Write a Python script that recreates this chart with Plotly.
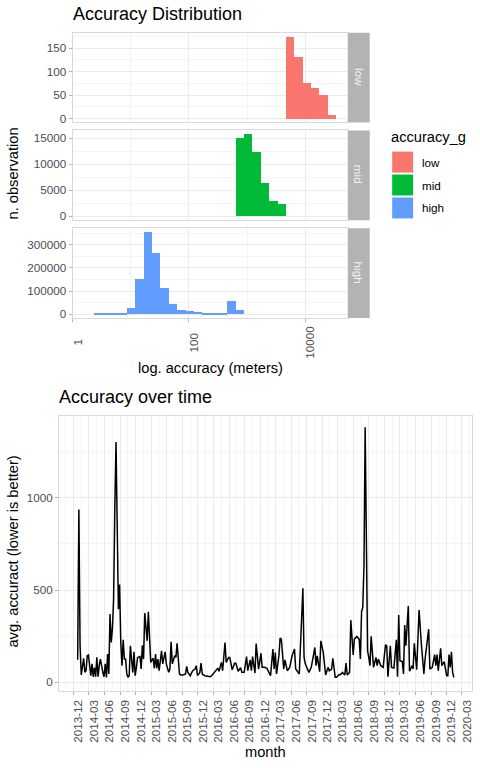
import datetime as dt
import plotly.graph_objects as go

# ---------- histogram data (log10 metres at bin centres, counts) ----------
BIN0 = 0.426
BINW = 0.144
low_bins = [23, 24, 25, 26, 27, 28]
low_counts = [175, 132, 77, 66, 51, 9]
mid_bins = [17, 18, 19, 20, 21, 22]
mid_counts = [14900, 15700, 12250, 6300, 2900, 2300]
high_bins = list(range(18))
high_counts = [5700, 5700, 5700, 5700, 27000, 152000, 355000, 264000, 113000,
               44500, 18700, 14000, 10000, 5700, 5700, 5700, 57500, 18700]
groups = ["low", "mid", "high"]
group_colors = ["#F8766D", "#00BA38", "#619CFF"]

# ---------- time series data (sampling steps since the first record, mean accuracy) ----------
first_record = dt.datetime(2013, 12, 24, 12)
step_days = 7.04
week_index = [0,1,2,3,5,6,7,8,9,11,12,13,14,15,16,17,18,19,21,22,23,24,25,26,27,28,29,30,31,32,
    34,35,36,37,38,39,40,41,42,43,44,46,47,48,49,50,52,53,54,55,56,58,59,60,61,62,63,64,65,66,
    67,68,69,70,71,73,74,76,77,78,79,81,82,83,85,86,88,90,91,92,94,96,98,99,100,102,103,104,106,109,
    111,113,115,117,118,120,121,123,124,126,127,129,131,132,134,136,137,139,141,142,144,145,146,148,149,150,151,153,154,156,
    158,161,163,164,165,166,168,169,170,172,173,175,177,179,181,182,184,185,188,189,190,192,193,195,198,199,200,202,203,205,
    207,209,210,212,213,215,216,218,220,221,223,224,225,227,228,230,231,233,235,236,237,238,239,240,241,242,243,244,245,247,
    249,250,251,253,255,257,258,259,261,262,264,266,267,268,269,271,272,273,274,276,277,279,280,281,283,285,287,289,290,293,
    294,296,298,299,300,301,303,304,306,308,309,310,311,312,313,314]
avg_accuracy = [122,937,200,40,130,55,63,144,148,36,100,30,80,30,135,30,90,126,54,30,100,27,153,45,370,216,288,450,940,1303,
    396,530,216,90,230,126,126,45,27,36,198,54,165,36,80,135,140,72,200,126,375,225,382,252,108,122,130,76,153,76,
    126,63,108,171,100,165,100,54,72,220,100,144,135,212,45,40,40,45,86,54,36,63,72,90,36,54,104,45,36,32,
    30,45,63,77,60,108,63,216,108,135,135,68,104,104,60,80,54,54,140,63,122,63,140,50,210,153,72,157,81,81,
    76,36,180,72,162,45,144,240,234,72,122,63,81,144,180,72,54,45,510,135,100,63,54,81,189,90,144,58,225,162,
    40,81,63,72,130,27,27,40,45,54,40,105,40,54,337,148,234,249,234,126,384,405,630,1382,576,171,135,90,249,81,
    135,90,126,90,81,204,198,30,198,81,77,230,30,365,117,113,45,311,198,414,60,90,72,212,68,392,198,45,126,288,
    72,81,150,90,150,63,184,90,112,36,36,150,81,166,54,27]
month_ticks = ["2013-12","2014-03","2014-06","2014-09","2014-12","2015-03","2015-06","2015-09","2015-12",
    "2016-03","2016-06","2016-09","2016-12","2017-03","2017-06","2017-09","2017-12","2018-03","2018-06",
    "2018-09","2018-12","2019-03","2019-06","2019-09","2019-12","2020-03"]

# ---------- styling ----------
FONT = "Liberation Sans"
W, H = 480, 768
BORDER = "#D9D9D9"
GRID = "#EBEBEB"
GRID_MINOR = "#F4F4F4"
TICK = "#B3B3B3"
TXT = "#4D4D4D"
STRIP = "#B3B3B3"
NX, NY = 0.5, 0.8  # pixel nudges for the panels

def xd(a, b): return [(a + NX) / W, (b + NX) / W]
def yd(top, bot): return [1 - (bot + NY) / H, 1 - (top + NY) / H]

fig = go.Figure()

panels = [
    (low_bins, low_counts, "x", "y"),
    (mid_bins, mid_counts, "x2", "y2"),
    (high_bins, high_counts, "x3", "y3"),
]
for g, color, (bins, counts, xa, ya) in zip(groups, group_colors, panels):
    fig.add_trace(go.Bar(
        x=[BIN0 + BINW * b for b in bins], y=counts, width=BINW, name=g,
        marker=dict(color=color, line=dict(width=0)), xaxis=xa, yaxis=ya, showlegend=False))

dates = [first_record + dt.timedelta(days=step_days * w) for w in week_index]
fig.add_trace(go.Scatter(x=dates, y=avg_accuracy, mode="lines", xaxis="x4", yaxis="y4",
                         line=dict(color="black", width=1.5, shape="linear"), showlegend=False))

def base_axis(**kw):
    d = dict(showgrid=True, gridcolor=GRID, gridwidth=1.1, zeroline=False, showline=True,
             linecolor=BORDER, linewidth=1.4, mirror=True, ticks="outside", ticklen=3,
             tickwidth=1, tickcolor=TICK, tickfont=dict(family=FONT, size=11.7, color=TXT))
    d.update(kw)
    return d

hist_x_range = [0, 4.735]
hist_x = dict(range=hist_x_range, tickvals=[0, 2, 4],
              minor=dict(tickvals=[1, 3], showgrid=True, gridcolor=GRID_MINOR, gridwidth=0.7, ticks=""))
x_common = base_axis(**hist_x)
lo_xtop = dict(x_common, showticklabels=False, ticks="")

def y_axis(rng, major, minor, top, bot, anchor):
    return base_axis(range=rng, tickvals=major, ticktext=[str(v) for v in major],
                     domain=yd(top, bot), anchor=anchor,
                     minor=dict(tickvals=minor, showgrid=True, gridcolor=GRID_MINOR, gridwidth=0.7, ticks=""))

month_dates = [dt.date(int(m[:4]), int(m[5:]), 1) for m in month_ticks]
minor_dates = [a + (b - a) / 2 for a, b in zip(month_dates, month_dates[1:])]
minor_dates = [dt.date(2013, 10, 16)] + minor_dates + [dt.date(2020, 4, 16)]

fig.update_layout(
    width=W, height=H, autosize=False, paper_bgcolor="white", plot_bgcolor="white",
    margin=dict(l=0, r=0, t=0, b=0), bargap=0, barmode="overlay",
    font=dict(family=FONT, color="black"),
    xaxis=dict(lo_xtop, domain=xd(72.5, 348), anchor="y"),
    xaxis2=dict(lo_xtop, domain=xd(72.5, 348), anchor="y2"),
    xaxis3=dict(x_common, domain=xd(72.5, 348), anchor="y3", showticklabels=False),
    yaxis=y_axis([-8.5, 183], [0, 50, 100, 150], [25, 75, 125, 175], 32, 122, "x"),
    yaxis2=y_axis([-766, 16475], [0, 5000, 10000, 15000], [2500, 7500, 12500], 130, 220, "x2"),
    yaxis3=y_axis([-16000, 372000], [0, 100000, 200000, 300000], [50000, 150000, 250000, 350000], 228, 318, "x3"),
    xaxis4=base_axis(type="date", domain=xd(59, 472.5), anchor="y4",
                     range=["2013-09-08", "2020-04-29"], tickvals=month_dates, ticktext=month_ticks,
                     tickangle=-90, ticklabelshift=5,
                     minor=dict(tickvals=minor_dates, showgrid=True, gridcolor=GRID_MINOR, gridwidth=0.7, ticks="")),
    yaxis4=y_axis([-47, 1445], [0, 500, 1000], [250, 750, 1250], 416, 692, "x4"),
)

def text(t, px, py, size, color="black", angle=0, anchor="center", xref="paper", x=None, xshift=0):
    fig.add_annotation(text=t, x=(px / W if x is None else x), y=1 - py / H, xref=xref, yref="paper",
                       showarrow=False, textangle=angle, xanchor=anchor, yanchor="middle",
                       xshift=xshift, font=dict(family=FONT, size=size, color=color))

text("Accuracy Distribution", 71, 14, 18, anchor="left")
text("Accuracy over time", 57, 398, 18, anchor="left")
text("n. observation", 13, 174, 14.67, angle=-90)
text("log. accuracy (meters)", 211, 369, 14.67)
text("avg. accuract (lower is better)", 13, 553, 14.67, angle=-90)
text("month", 266, 754, 14.67)
for val, lab in zip([0, 2, 4], ["1", "100", "10000"]):
    text(lab, 0, 343, 11.7, color=TXT, angle=-90, xref="x3", x=val, xshift=4.5)

for g, (top, bot) in zip(groups, [(32, 122), (130, 220), (228, 318)]):
    fig.add_shape(type="rect", xref="paper", yref="paper", x0=(348 + NX) / W, x1=(370 + NX) / W,
                  y0=1 - (bot + NY) / H, y1=1 - (top + NY) / H, fillcolor=STRIP, line=dict(width=0))
    text(g, 359.5, (top + bot) / 2, 11.7, color="#F2F2F2", angle=90)

text("accuracy_g", 390, 137, 14.67, anchor="left")
for g, c, (top, bot) in zip(groups, group_colors, [(152, 173), (175, 196), (198, 219)]):
    fig.add_shape(type="rect", xref="paper", yref="paper", x0=393 / W, x1=414 / W, y0=1 - bot / H, y1=1 - top / H,
                  fillcolor=c, line=dict(width=0))
    text(g, 421, (top + bot) / 2, 11.7, anchor="left")

fig.write_html("out.html", config=dict(displayModeBar=False),
               post_script="document.body.style.margin='0';document.documentElement.style.overflow='hidden';")
